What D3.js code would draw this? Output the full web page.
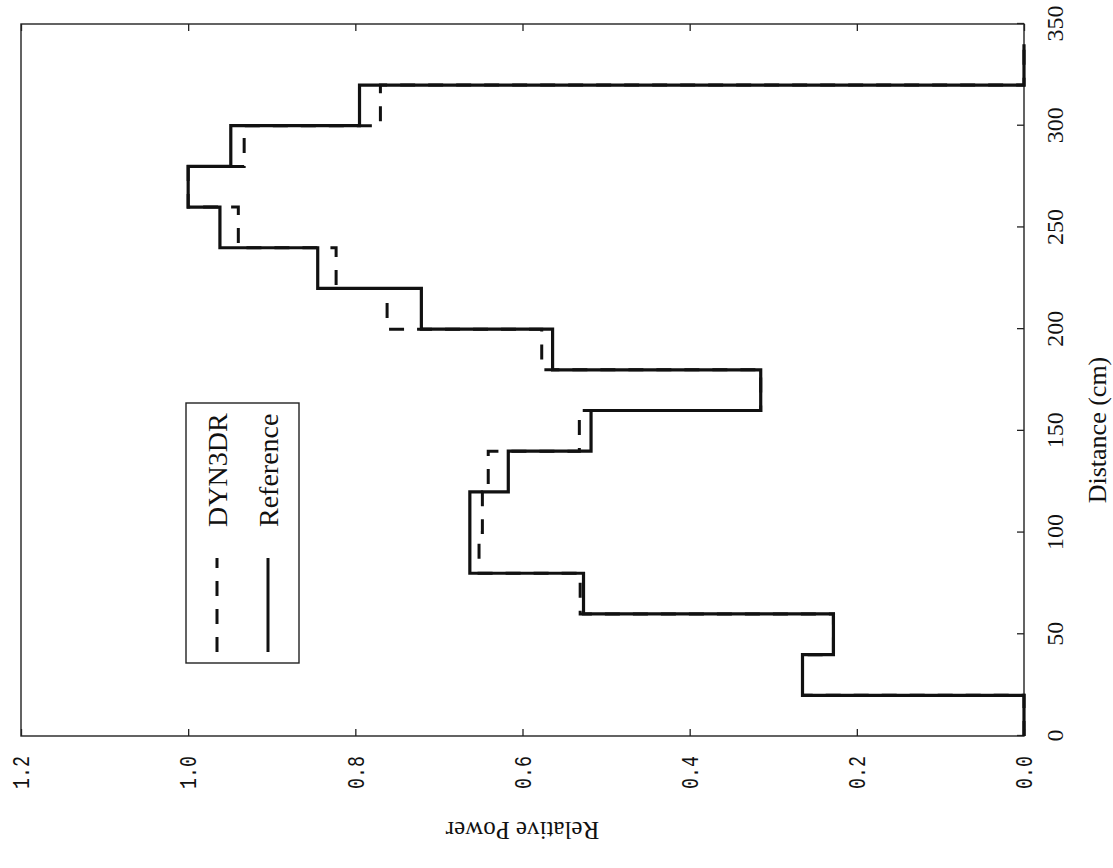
<!DOCTYPE html>
<html>
  <head>
    <title>Relative Power vs Distance</title>
    <script src="https://unpkg.com/d3@7/dist/d3.min.js"></script>
    <style>
      body { margin: 0; background: #fff; }
    </style>
  </head>
  <body>
    <svg width="1113" height="868"></svg>
    <script>

      // bin starts (cm), each bin is 20 cm wide
      const binStarts = [0, 20, 40, 60, 80, 100, 120, 140, 160, 180, 200, 220, 240, 260, 280, 300, 320];
      const binWidth = 20;

      const referencePower = [0, 0.265, 0.228, 0.527, 0.663, 0.663, 0.617, 0.518, 0.315, 0.564, 0.721, 0.845, 0.962, 1.0, 0.949, 0.795, 0];
      const dyn3drPower    = [0, 0.265, 0.228, 0.531, 0.652, 0.648, 0.641, 0.532, 0.315, 0.577, 0.762, 0.823, 0.940, 1.0, 0.933, 0.770, 0];

      const distanceTicks = [0, 50, 100, 150, 200, 250, 300, 350];
      const powerTicks = [0, 0.2, 0.4, 0.6, 0.8, 1.0, 1.2];

      const svg = d3.select("svg");
      svg.append("rect").attr("width", 1113).attr("height", 868).attr("fill", "#fff");

      // the page is printed sideways: draw upright, then turn it a quarter left
      const g = svg.append("g").attr("transform", "translate(0,868) rotate(-90)");

      const x = d3.scaleLinear().domain([0, 350]).range([132, 844]);
      const y = d3.scaleLinear().domain([0, 1.2]).range([1024, 21]);

      const serif = "'Liberation Serif', 'Times New Roman', serif";
      const mono = "'Liberation Mono', 'Courier New', monospace";

      // frame
      g.append("rect")
        .attr("x", x(0)).attr("y", y(1.2))
        .attr("width", x(350) - x(0)).attr("height", y(0) - y(1.2))
        .attr("fill", "none").attr("stroke", "#222").attr("stroke-width", 1.4);

      // distance axis
      const xAxis = g.append("g")
        .attr("transform", `translate(0,${y(0)})`)
        .call(d3.axisBottom(x).tickValues(distanceTicks).tickSize(-7).tickSizeOuter(0).tickPadding(22));

      xAxis.select(".domain").remove();
      xAxis.selectAll("text").attr("font-family", serif).attr("font-size", 24).attr("fill", "#111");
      xAxis.selectAll("line").attr("stroke", "#222").attr("stroke-width", 1.3);

      // power axis (labels on one side, ticks on both)
      const yAxis = g.append("g")
        .attr("transform", `translate(${x(0)},0)`)
        .call(d3.axisLeft(y).tickValues(powerTicks).tickSize(-7).tickSizeOuter(0).tickPadding(20).tickFormat(d3.format(".1f")));

      yAxis.select(".domain").remove();
      yAxis.selectAll("text")
        .attr("font-family", mono).attr("font-size", 24).attr("fill", "#111")
        .attr("textLength", 33).attr("lengthAdjust", "spacingAndGlyphs");
      yAxis.selectAll("line").attr("stroke", "#222").attr("stroke-width", 1.3);

      const yAxisRight = g.append("g")
        .attr("transform", `translate(${x(350)},0)`)
        .call(d3.axisRight(y).tickValues(powerTicks).tickSize(-7).tickSizeOuter(0).tickFormat(""));

      yAxisRight.select(".domain").remove();
      yAxisRight.selectAll("line").attr("stroke", "#222").attr("stroke-width", 1.3);

      // axis titles
      g.append("text")
        .attr("x", 438).attr("y", 1106)
        .attr("text-anchor", "middle")
        .attr("font-family", serif).attr("font-size", 26).attr("fill", "#111")
        .text("Distance (cm)");

      g.append("text")
        .attr("transform", `translate(46,${(y(0) + y(1.2)) / 2}) rotate(-90)`)
        .attr("text-anchor", "middle")
        .attr("font-family", serif).attr("font-size", 25).attr("fill", "#111")
        .text("Relative Power");

      // step lines
      const stepPoints = values => {
        const pts = binStarts.map((d, i) => [d, values[i]]);
        pts.push([binStarts[binStarts.length - 1] + binWidth, values[values.length - 1]]);
        return pts;
      };

      const line = d3.line()
        .x(d => x(d[0]))
        .y(d => y(d[1]))
        .curve(d3.curveStepAfter);

      g.append("path")
        .attr("d", line(stepPoints(dyn3drPower)))
        .attr("fill", "none")
        .attr("stroke", "#111")
        .attr("stroke-width", 3)
        .attr("stroke-dasharray", "15,13");

      g.append("path")
        .attr("d", line(stepPoints(referencePower)))
        .attr("fill", "none")
        .attr("stroke", "#111")
        .attr("stroke-width", 3.2);

      // legend
      const legend = g.append("g");

      legend.append("rect")
        .attr("x", 205).attr("y", 186)
        .attr("width", 260).attr("height", 113)
        .attr("fill", "#fff").attr("stroke", "#222").attr("stroke-width", 1.4);

      const legendItems = [
        { name: "DYN3DR", dash: "15,13", v: 217 },
        { name: "Reference", dash: null, v: 268 }
      ];

      legendItems.forEach(item => {
        legend.append("line")
          .attr("x1", 216).attr("x2", 310)
          .attr("y1", item.v).attr("y2", item.v)
          .attr("stroke", "#111").attr("stroke-width", 3)
          .attr("stroke-dasharray", item.dash);

        legend.append("text")
          .attr("x", 341).attr("y", item.v + 10)
          .attr("font-family", serif).attr("font-size", 28).attr("fill", "#111")
          .text(item.name);
      });

    </script>
  </body>
</html>
